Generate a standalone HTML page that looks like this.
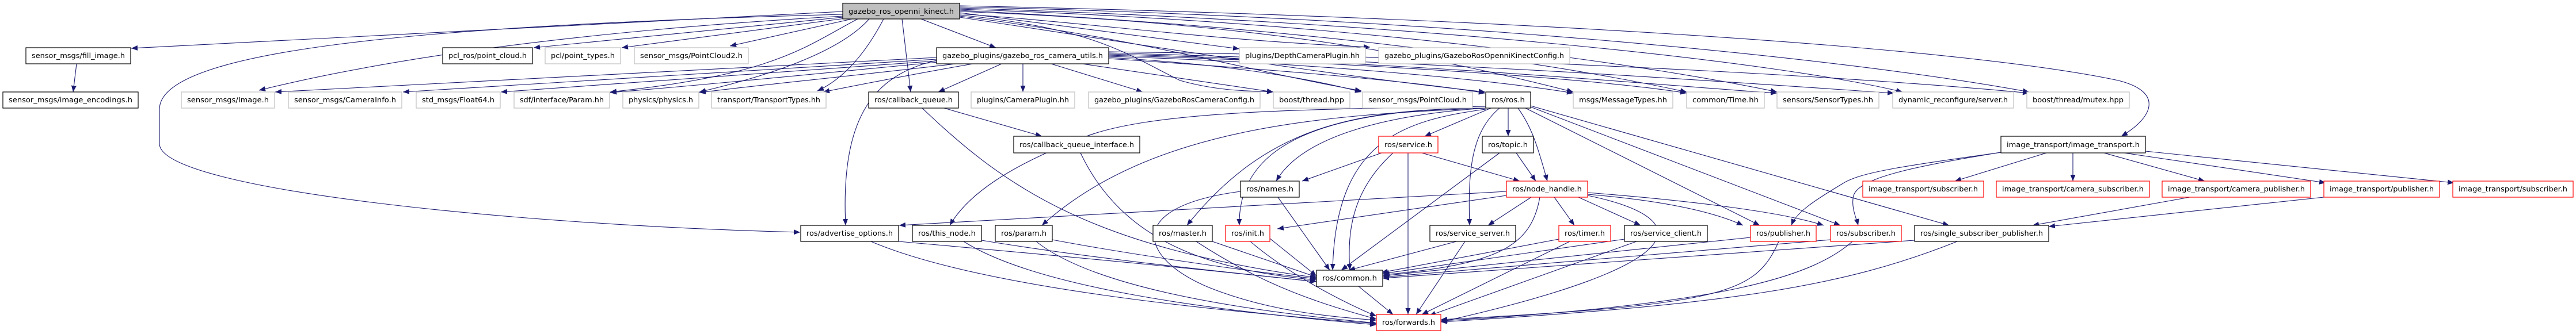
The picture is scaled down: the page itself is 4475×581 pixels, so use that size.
<!DOCTYPE html>
<html><head><meta charset="utf-8"><style>
html,body{margin:0;padding:0;background:#fff;}
svg{display:block;}
text{font-family:"DejaVu Sans","Liberation Sans",sans-serif;font-size:12px;fill:#000;}
.e{fill:none;stroke:#191970;stroke-width:1.1;marker-end:url(#a);}
.k{fill:#fff;stroke:#000;stroke-width:1.2;}
.g{fill:#fff;stroke:#bfbfbf;stroke-width:1.2;}
.r{fill:#fff;stroke:#ff0000;stroke-width:1.2;}
</style></head><body>
<svg width="4475" height="581" viewBox="0 0 4475 581" xmlns="http://www.w3.org/2000/svg">
<defs><marker id="a" markerUnits="userSpaceOnUse" markerWidth="12" markerHeight="9" refX="11" refY="4.5" orient="auto"><path d="M0,0 L11,4.5 L0,9 z" fill="#191970"/></marker></defs>
<g>
<!-- from top node -->
<path class="e" d="M1464,20 L228,84"/>
<path class="e" d="M1464,25 C700,45 277,90 277,190 L277,250 C277,330 900,392 1390,404"/>
<path class="e" d="M1464,28 C900,60 600,120 450,157"/>
<path class="e" d="M1464,30 L927,83"/>
<path class="e" d="M1468,32 L1080,83"/>
<path class="e" d="M1480,33 L1268,80"/>
<path class="e" d="M1490,33 C1400,80 1350,130 1060,160"/>
<path class="e" d="M1510,33 C1450,100 1300,140 1215,160"/>
<path class="e" d="M1535,33 C1500,100 1460,140 1420,158"/>
<path class="e" d="M1600,33 L1730,83"/>
<path class="e" d="M1567,33 L1582,160"/>
<path class="e" d="M1667,22 L2153,85"/>
<path class="e" d="M1667,24 C1900,40 2100,70 2380,82"/>
<path class="e" d="M1667,26 C1900,50 1950,90 2050,140 C2120,160 2180,158 2212,160"/>
<path class="e" d="M1667,28 C2000,70 2150,120 2365,158"/>
<path class="e" d="M1667,30 C2000,80 2300,130 2580,160"/>
<path class="e" d="M1667,20 C2200,40 2500,100 2733,160"/>
<path class="e" d="M1667,18 C2300,50 2700,110 2930,160"/>
<path class="e" d="M1667,16 C2400,40 2900,120 3087,160"/>
<path class="e" d="M1667,14 C2500,40 3100,110 3305,160"/>
<path class="e" d="M1667,12 C2500,30 3200,100 3525,160"/>
<path class="e" d="M1667,10 C2600,30 3400,80 3680,140 C3760,160 3740,205 3685,237"/>
<!-- camera_utils -->
<path class="e" d="M1627,100 L478,160"/>
<path class="e" d="M1627,103 L700,160"/>
<path class="e" d="M1627,106 L870,160"/>
<path class="e" d="M1630,108 C1400,130 1200,150 1060,161"/>
<path class="e" d="M1660,111 C1500,130 1300,150 1215,161"/>
<path class="e" d="M1690,111 C1580,130 1480,150 1430,160"/>
<path class="e" d="M1740,111 L1630,160"/>
<path class="e" d="M1777,111 L1777,160"/>
<path class="e" d="M1826,111 L1985,160"/>
<path class="e" d="M1880,111 L2212,160"/>
<path class="e" d="M1926,100 C2100,110 2250,130 2365,160"/>
<path class="e" d="M1926,102 C2200,120 2450,140 2580,162"/>
<path class="e" d="M1926,98 C2300,110 2600,140 2733,162"/>
<path class="e" d="M1926,96 C2400,110 2800,140 2930,162"/>
<path class="e" d="M1926,94 C2500,110 2900,150 3087,162"/>
<path class="e" d="M1926,92 C2600,110 3100,150 3290,162"/>
<path class="e" d="M1926,90 C2700,100 3300,140 3525,162"/>
<path class="e" d="M1627,105 C1520,130 1460,200 1469,392"/>
<!-- fill_image -->
<path class="e" d="M133,111 L127,160"/>
<!-- callback_queue -->
<path class="e" d="M1640,188 L1810,237"/>
<path class="e" d="M1602,188 C1750,330 1900,430 2287,483"/>
<path class="e" d="M1877,266 C1950,420 2100,470 2287,487"/>
<!-- ros.h -->
<path class="e" d="M2581,185 C2300,190 2000,190 1880,240 C1750,290 1680,340 1650,392"/>
<path class="e" d="M2581,188 C2300,200 2000,220 1810,392"/>
<path class="e" d="M2581,188 C2350,190 2200,220 2062,392"/>
<path class="e" d="M2581,188 C2300,190 2150,250 2153,392"/>
<path class="e" d="M2581,188 C2400,200 2260,240 2217,315"/>
<path class="e" d="M2590,188 L2475,237"/>
<path class="e" d="M2620,188 L2620,237"/>
<path class="e" d="M2637,188 C2660,220 2670,250 2688,315"/>
<path class="e" d="M2605,188 C2555,230 2550,300 2553,392"/>
<path class="e" d="M2581,190 C2430,210 2320,250 2315,470"/>
<path class="e" d="M2650,188 L3057,392"/>
<path class="e" d="M2659,186 L3197,392"/>
<path class="e" d="M2659,184 L3386,392"/>
<!-- service.h -->
<path class="e" d="M2400,266 L2262,315"/>
<path class="e" d="M2470,266 L2640,315"/>
<path class="e" d="M2420,266 C2350,330 2340,400 2345,470"/>
<path class="e" d="M2446,266 L2446,547"/>
<!-- topic -->
<path class="e" d="M2634,266 L2668,315"/>
<path class="e" d="M2605,266 L2330,470"/>
<!-- node_handle -->
<path class="e" d="M2617,333 L1562,392"/>
<path class="e" d="M2617,340 L2219,398"/>
<path class="e" d="M2660,343 L2585,392"/>
<path class="e" d="M2700,343 L2735,392"/>
<path class="e" d="M2742,343 L2850,392"/>
<path class="e" d="M2675,343 C2660,430 2600,460 2403,478"/>
<path class="e" d="M2758,340 C2950,380 2950,460 2503,560"/>
<path class="e" d="M2758,338 C2900,350 2980,370 3028,392"/>
<path class="e" d="M2758,335 C2950,350 3100,370 3168,392"/>
<!-- names -->
<path class="e" d="M2220,343 L2310,470"/>
<path class="e" d="M2155,333 C1950,360 1980,450 2100,500 C2200,540 2300,550 2391,557"/>
<!-- row E to common/forwards -->
<path class="e" d="M1561,420 C1900,450 2100,470 2287,490"/>
<path class="e" d="M1513,420 C1700,500 2100,540 2391,563"/>
<path class="e" d="M1705,418 C1900,450 2100,470 2287,490"/>
<path class="e" d="M1674,420 C1800,500 2100,540 2391,565"/>
<path class="e" d="M1828,417 C1950,440 2150,470 2287,485"/>
<path class="e" d="M1800,420 C1900,500 2150,540 2391,562"/>
<path class="e" d="M2106,420 L2287,482"/>
<path class="e" d="M2078,420 C2200,500 2300,530 2391,555"/>
<path class="e" d="M2172,420 C2230,470 2320,520 2391,550"/>
<path class="e" d="M2200,410 L2287,480"/>
<path class="e" d="M2530,420 L2343,470"/>
<path class="e" d="M2545,420 L2460,547"/>
<path class="e" d="M2708,416 L2400,474"/>
<path class="e" d="M2727,420 L2470,547"/>
<path class="e" d="M2822,416 L2402,476"/>
<path class="e" d="M2843,420 L2483,549"/>
<path class="e" d="M3041,413 L2402,480"/>
<path class="e" d="M3090,420 C3050,510 3000,530 2503,556"/>
<path class="e" d="M3180,417 L2402,482"/>
<path class="e" d="M3218,420 C3150,480 3000,530 2503,558"/>
<path class="e" d="M3326,418 L2402,484"/>
<path class="e" d="M3400,420 C3200,500 3000,530 2503,560"/>
<path class="e" d="M2360,498 L2420,547"/>
<!-- image_transport -->
<path class="e" d="M3555,266 L3396,315"/>
<path class="e" d="M3601,266 L3601,315"/>
<path class="e" d="M3655,266 L3830,315"/>
<path class="e" d="M3690,266 L4040,318"/>
<path class="e" d="M3727,263 L4263,318"/>
<path class="e" d="M3476,265 C3300,290 3230,300 3200,320 C3150,350 3120,370 3112,392"/>
<path class="e" d="M3476,265 C3320,290 3230,310 3220,340 C3215,360 3225,380 3228,392"/>
<path class="e" d="M3804,343 L3531,392"/>
<path class="e" d="M4037,343 L3559,394"/>
</g>
<!-- nodes -->
<g>
<rect class="k" x="1464" y="5.5" width="203" height="27.5" style="fill:#bfbfbf"/><text x="1565.5" y="24" text-anchor="middle" textLength="183" lengthAdjust="spacingAndGlyphs">gazebo_ros_openni_kinect.h</text>

<rect class="k" x="45" y="83" width="182" height="28"/><text x="136" y="101" text-anchor="middle" textLength="162" lengthAdjust="spacingAndGlyphs">sensor_msgs/fill_image.h</text>
<rect class="k" x="769" y="83" width="156" height="28"/><text x="847" y="101" text-anchor="middle" textLength="136" lengthAdjust="spacingAndGlyphs">pcl_ros/point_cloud.h</text>
<rect class="g" x="947" y="83" width="131" height="28"/><text x="1012.5" y="101" text-anchor="middle" textLength="111" lengthAdjust="spacingAndGlyphs">pcl/point_types.h</text>
<rect class="g" x="1102" y="83" width="198" height="28"/><text x="1201" y="101" text-anchor="middle" textLength="178" lengthAdjust="spacingAndGlyphs">sensor_msgs/PointCloud2.h</text>
<rect class="k" x="1627" y="83" width="299" height="28"/><text x="1776.5" y="101" text-anchor="middle" textLength="279" lengthAdjust="spacingAndGlyphs">gazebo_plugins/gazebo_ros_camera_utils.h</text>
<rect class="g" x="2153" y="83" width="219" height="28"/><text x="2262.5" y="101" text-anchor="middle" textLength="199" lengthAdjust="spacingAndGlyphs">plugins/DepthCameraPlugin.hh</text>
<rect class="g" x="2395" y="83" width="332" height="28"/><text x="2561" y="101" text-anchor="middle" textLength="312" lengthAdjust="spacingAndGlyphs">gazebo_plugins/GazeboRosOpenniKinectConfig.h</text>

<rect class="k" x="5" y="160" width="235" height="28"/><text x="122.5" y="178" text-anchor="middle" textLength="215" lengthAdjust="spacingAndGlyphs">sensor_msgs/image_encodings.h</text>
<rect class="g" x="315" y="160" width="162" height="28"/><text x="396" y="178" text-anchor="middle" textLength="142" lengthAdjust="spacingAndGlyphs">sensor_msgs/Image.h</text>
<rect class="g" x="501" y="160" width="197" height="28"/><text x="599.5" y="178" text-anchor="middle" textLength="177" lengthAdjust="spacingAndGlyphs">sensor_msgs/CameraInfo.h</text>
<rect class="g" x="723" y="160" width="146" height="28"/><text x="796" y="178" text-anchor="middle" textLength="126" lengthAdjust="spacingAndGlyphs">std_msgs/Float64.h</text>
<rect class="g" x="893" y="160" width="166" height="28"/><text x="976" y="178" text-anchor="middle" textLength="146" lengthAdjust="spacingAndGlyphs">sdf/interface/Param.hh</text>
<rect class="g" x="1082" y="160" width="132" height="28"/><text x="1148" y="178" text-anchor="middle" textLength="112" lengthAdjust="spacingAndGlyphs">physics/physics.h</text>
<rect class="g" x="1236" y="160" width="199" height="28"/><text x="1335.5" y="178" text-anchor="middle" textLength="179" lengthAdjust="spacingAndGlyphs">transport/TransportTypes.hh</text>
<rect class="k" x="1509" y="160" width="156" height="28"/><text x="1587" y="178" text-anchor="middle" textLength="136" lengthAdjust="spacingAndGlyphs">ros/callback_queue.h</text>
<rect class="g" x="1687" y="160" width="180" height="28"/><text x="1777" y="178" text-anchor="middle" textLength="160" lengthAdjust="spacingAndGlyphs">plugins/CameraPlugin.hh</text>
<rect class="g" x="1891" y="160" width="298" height="28"/><text x="2040" y="178" text-anchor="middle" textLength="278" lengthAdjust="spacingAndGlyphs">gazebo_plugins/GazeboRosCameraConfig.h</text>
<rect class="g" x="2212" y="160" width="133" height="28"/><text x="2278.5" y="178" text-anchor="middle" textLength="113" lengthAdjust="spacingAndGlyphs">boost/thread.hpp</text>
<rect class="g" x="2367" y="160" width="191" height="28"/><text x="2462.5" y="178" text-anchor="middle" textLength="171" lengthAdjust="spacingAndGlyphs">sensor_msgs/PointCloud.h</text>
<rect class="k" x="2581" y="160" width="78" height="28"/><text x="2620" y="178" text-anchor="middle" textLength="58" lengthAdjust="spacingAndGlyphs">ros/ros.h</text>
<rect class="g" x="2733" y="160" width="173" height="28"/><text x="2819.5" y="178" text-anchor="middle" textLength="153" lengthAdjust="spacingAndGlyphs">msgs/MessageTypes.hh</text>
<rect class="g" x="2930" y="160" width="135" height="28"/><text x="2997.5" y="178" text-anchor="middle" textLength="115" lengthAdjust="spacingAndGlyphs">common/Time.hh</text>
<rect class="g" x="3087" y="160" width="177" height="28"/><text x="3175.5" y="178" text-anchor="middle" textLength="157" lengthAdjust="spacingAndGlyphs">sensors/SensorTypes.hh</text>
<rect class="g" x="3288" y="160" width="210" height="28"/><text x="3393" y="178" text-anchor="middle" textLength="190" lengthAdjust="spacingAndGlyphs">dynamic_reconfigure/server.h</text>
<rect class="g" x="3521" y="160" width="178" height="28"/><text x="3610" y="178" text-anchor="middle" textLength="158" lengthAdjust="spacingAndGlyphs">boost/thread/mutex.hpp</text>

<rect class="k" x="1761" y="237" width="219" height="29"/><text x="1870.5" y="256" text-anchor="middle" textLength="199" lengthAdjust="spacingAndGlyphs">ros/callback_queue_interface.h</text>
<rect class="r" x="2395" y="237" width="103" height="29"/><text x="2446.5" y="256" text-anchor="middle" textLength="83" lengthAdjust="spacingAndGlyphs">ros/service.h</text>
<rect class="k" x="2575" y="237" width="89" height="29"/><text x="2619.5" y="256" text-anchor="middle" textLength="69" lengthAdjust="spacingAndGlyphs">ros/topic.h</text>
<rect class="k" x="3476" y="237" width="251" height="29"/><text x="3601.5" y="256" text-anchor="middle" textLength="231" lengthAdjust="spacingAndGlyphs">image_transport/image_transport.h</text>

<rect class="k" x="2155" y="315" width="102" height="28"/><text x="2206" y="333" text-anchor="middle" textLength="82" lengthAdjust="spacingAndGlyphs">ros/names.h</text>
<rect class="r" x="2617" y="315" width="141" height="28"/><text x="2687.5" y="333" text-anchor="middle" textLength="121" lengthAdjust="spacingAndGlyphs">ros/node_handle.h</text>
<rect class="r" x="3236" y="315" width="210" height="28"/><text x="3341" y="333" text-anchor="middle" textLength="190" lengthAdjust="spacingAndGlyphs">image_transport/subscriber.h</text>
<rect class="r" x="3468" y="315" width="266" height="28"/><text x="3601" y="333" text-anchor="middle" textLength="246" lengthAdjust="spacingAndGlyphs">image_transport/camera_subscriber.h</text>
<rect class="r" x="3756" y="315" width="258" height="28"/><text x="3885" y="333" text-anchor="middle" textLength="238" lengthAdjust="spacingAndGlyphs">image_transport/camera_publisher.h</text>
<rect class="r" x="4037" y="315" width="201" height="28"/><text x="4137.5" y="333" text-anchor="middle" textLength="181" lengthAdjust="spacingAndGlyphs">image_transport/publisher.h</text>
<rect class="r" x="4261" y="315" width="209" height="28"/><text x="4365.5" y="333" text-anchor="middle" textLength="189" lengthAdjust="spacingAndGlyphs">image_transport/subscriber.h</text>

<rect class="k" x="1391" y="392" width="170" height="28"/><text x="1476" y="410" text-anchor="middle" textLength="150" lengthAdjust="spacingAndGlyphs">ros/advertise_options.h</text>
<rect class="k" x="1585" y="392" width="120" height="28"/><text x="1645" y="410" text-anchor="middle" textLength="100" lengthAdjust="spacingAndGlyphs">ros/this_node.h</text>
<rect class="k" x="1729" y="392" width="99" height="28"/><text x="1778.5" y="410" text-anchor="middle" textLength="79" lengthAdjust="spacingAndGlyphs">ros/param.h</text>
<rect class="k" x="2003" y="392" width="103" height="28"/><text x="2054.5" y="410" text-anchor="middle" textLength="83" lengthAdjust="spacingAndGlyphs">ros/master.h</text>
<rect class="r" x="2129" y="392" width="77" height="28"/><text x="2167.5" y="410" text-anchor="middle" textLength="57" lengthAdjust="spacingAndGlyphs">ros/init.h</text>
<rect class="k" x="2484" y="392" width="149" height="28"/><text x="2558.5" y="410" text-anchor="middle" textLength="129" lengthAdjust="spacingAndGlyphs">ros/service_server.h</text>
<rect class="r" x="2708" y="392" width="90" height="28"/><text x="2753" y="410" text-anchor="middle" textLength="70" lengthAdjust="spacingAndGlyphs">ros/timer.h</text>
<rect class="k" x="2822" y="392" width="144" height="28"/><text x="2894" y="410" text-anchor="middle" textLength="124" lengthAdjust="spacingAndGlyphs">ros/service_client.h</text>
<rect class="r" x="3041" y="392" width="114" height="28"/><text x="3098" y="410" text-anchor="middle" textLength="94" lengthAdjust="spacingAndGlyphs">ros/publisher.h</text>
<rect class="r" x="3180" y="392" width="123" height="28"/><text x="3241.5" y="410" text-anchor="middle" textLength="103" lengthAdjust="spacingAndGlyphs">ros/subscriber.h</text>
<rect class="k" x="3326" y="392" width="233" height="28"/><text x="3442.5" y="410" text-anchor="middle" textLength="213" lengthAdjust="spacingAndGlyphs">ros/single_subscriber_publisher.h</text>

<rect class="k" x="2287" y="470" width="115" height="28"/><text x="2344.5" y="488" text-anchor="middle" textLength="95" lengthAdjust="spacingAndGlyphs">ros/common.h</text>
<rect class="r" x="2391" y="547" width="112" height="28"/><text x="2447" y="565" text-anchor="middle" textLength="92" lengthAdjust="spacingAndGlyphs">ros/forwards.h</text>
</g>
</svg>
</body></html>
